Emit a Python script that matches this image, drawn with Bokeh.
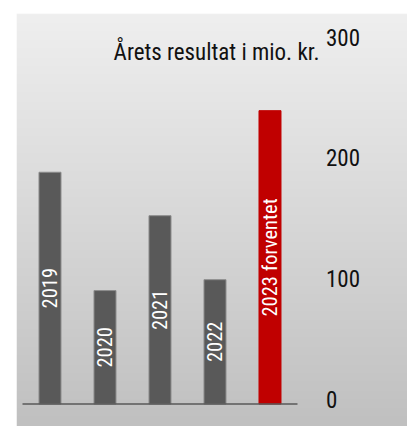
import numpy as np
from bokeh.plotting import figure
from bokeh.models import Range1d, LinearAxis, FixedTicker, Label, ColumnDataSource
from bokeh.core.properties import value
from bokeh.embed import file_html
from bokeh.resources import INLINE

# ---- data ----
years = ["2019", "2020", "2021", "2022", "2023 forventet"]
results = [192, 94, 156, 103, 243]
forecast = [False, False, False, False, True]
y_ticks = [0, 100, 200, 300]
title_text = "Årets resultat i mio. kr."

FONT = "Roboto Condensed"

idx = list(range(len(years)))
fill = ["#C00000" if f else "#595959" for f in forecast]
outline = ["#C00000" if f else "#8C8C8C" for f in forecast]

Y0, Y1 = -18.6, 323.5
p = figure(width=407, height=426, output_backend="svg", toolbar_location=None,
           x_axis_location=None, y_axis_location=None,
           x_range=Range1d(-0.609, 6.5), y_range=Range1d(Y0, Y1),
           min_border_left=16, min_border_top=13, min_border_right=0, min_border_bottom=0)
p.outline_line_color = None
p.grid.visible = False
p.border_fill_color = "white"
# tick labels in the reference sit slightly above their gridline value
LABEL_LIFT = 3.9
p.extra_y_ranges = {"ticks": Range1d(Y0 - LABEL_LIFT, Y1 - LABEL_LIFT)}

# background gradient (top light -> bottom darker)
n = 256
img = np.empty((n, 1), dtype=np.uint32)
view = img.view(dtype=np.uint8).reshape((n, 1, 4))
g = np.linspace(0xC0, 0xEF, n).astype(np.uint8)
view[:, 0, 0] = g
view[:, 0, 1] = g
view[:, 0, 2] = g
view[:, 0, 3] = 255
p.image_rgba(image=[img], x=p.x_range.start, y=p.y_range.start,
             dw=p.x_range.end - p.x_range.start, dh=p.y_range.end - p.y_range.start)

src = ColumnDataSource(dict(x=idx, top=results, half=[v / 2 for v in results],
                            label=years, fill=fill, outline=outline))

p.vbar(x="x", top="top", bottom=0, width=0.4, source=src,
       fill_color="fill", line_color="outline", line_width=1)

p.line(x=[-0.5, len(years) - 0.5], y=[0, 0], line_color="#595959", line_width=1.5)

p.text(x="x", y="half", text="label", source=src, angle=np.pi / 2,
       text_align="center", text_baseline="middle", text_color="white",
       text_font=value(FONT), text_font_size="20.5px")

ax = LinearAxis(ticker=FixedTicker(ticks=y_ticks), fixed_location=len(years),
                y_range_name="ticks")
ax.axis_line_color = None
ax.major_tick_line_color = None
ax.minor_tick_line_color = None
ax.major_tick_out = 0
ax.major_tick_in = 0
ax.major_label_standoff = 1
ax.major_label_text_font = FONT
ax.major_label_text_font_size = "23px"
ax.major_label_text_color = "#111111"
p.add_layout(ax, "right")

p.add_layout(Label(x=4.9, y=291.5, text=title_text, text_align="right",
                   text_baseline="middle", text_font=FONT,
                   text_font_size="23px", text_color="#111111"))

open("out.html", "w").write(file_html(p, INLINE))
